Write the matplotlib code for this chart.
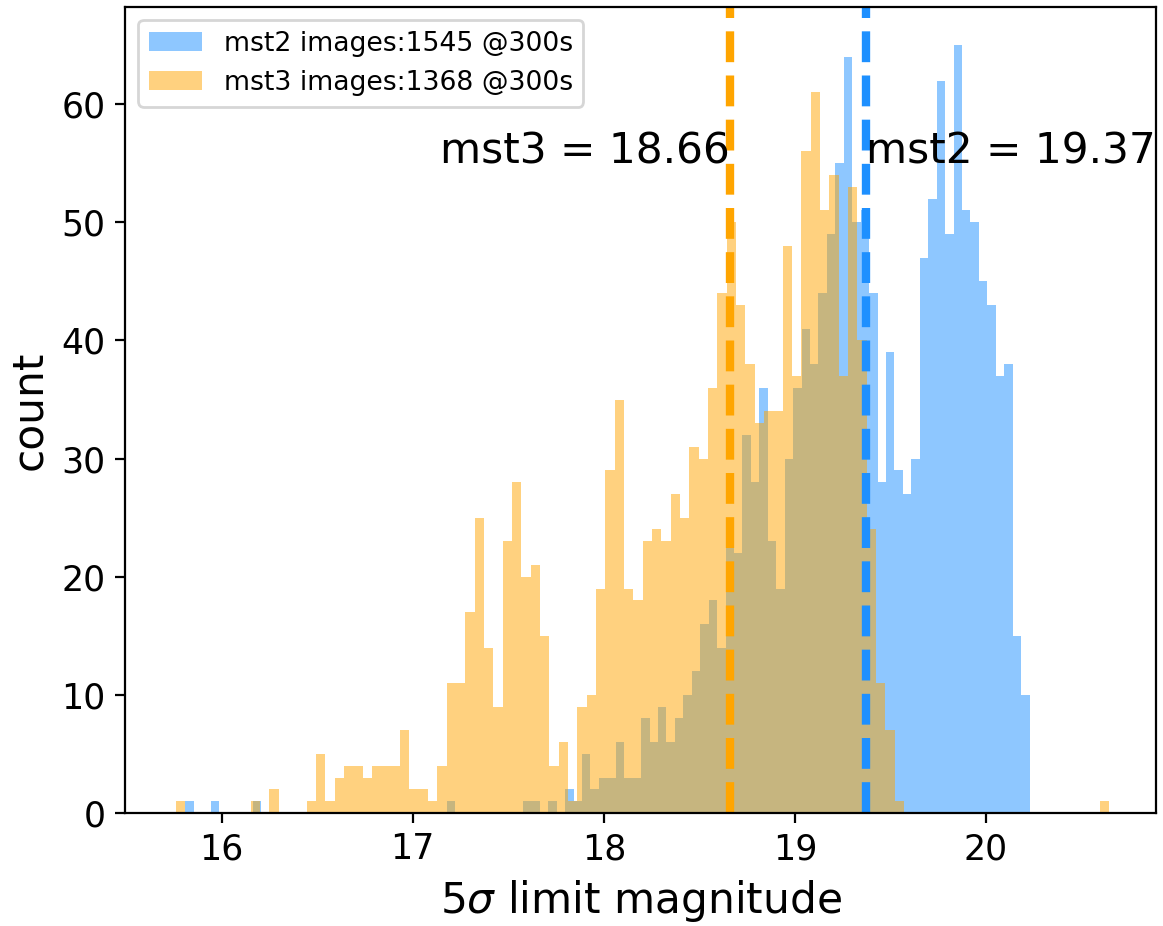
import numpy as np
import matplotlib
matplotlib.use("Agg")
import matplotlib.pyplot as plt

# ---- data (histogram counts, 100 bins each) ----
mst2_range = (15.809, 20.228)
mst3_range = (15.761, 20.646)

mst2_counts = [1, 0, 0, 1, 0, 0, 0, 0, 1, 0,
               0, 0, 0, 0, 0, 0, 0, 0, 0, 0,
               0, 0, 0, 0, 0, 0, 0, 0, 0, 0,
               0, 1, 0, 0, 0, 0, 0, 0, 0, 0,
               1, 1, 0, 1, 0, 2, 1, 5, 2, 3,
               3, 6, 3, 3, 8, 6, 9, 6, 8, 10,
               12, 16, 18, 14, 24, 22, 32, 28, 36, 23,
               19, 30, 36, 41, 38, 44, 49, 55, 64, 50,
               51, 44, 28, 39, 29, 27, 30, 47, 52, 62,
               49, 65, 51, 50, 45, 43, 37, 38, 15, 10]

mst3_counts = [1, 0, 0, 0, 0, 0, 0, 0, 1, 0,
               2, 0, 0, 0, 1, 5, 1, 3, 4, 4,
               3, 4, 4, 4, 7, 2, 2, 1, 4, 11,
               11, 17, 25, 14, 9, 23, 28, 20, 21, 15,
               4, 6, 1, 9, 10, 19, 29, 35, 19, 18,
               23, 24, 23, 27, 25, 31, 30, 36, 44, 50,
               43, 38, 33, 34, 34, 48, 37, 56, 61, 51,
               54, 37, 53, 40, 24, 11, 7, 1, 0, 0,
               0, 0, 0, 0, 0, 0, 0, 0, 0, 0,
               0, 0, 0, 0, 0, 0, 0, 0, 0, 1]

mst2_label = "mst2 images:1545 @300s"
mst3_label = "mst3 images:1368 @300s"
mst2_limit = 19.37
mst3_limit = 18.66

# ---- figure ----
fig = plt.figure(figsize=(11.63 / 2, 9.26 / 2), dpi=200)
ax = fig.add_axes([125 / 1163, 1 - 813 / 926, (1156 - 125) / 1163, (813 - 6.7) / 926])

e2 = np.linspace(mst2_range[0], mst2_range[1], len(mst2_counts) + 1)
e3 = np.linspace(mst3_range[0], mst3_range[1], len(mst3_counts) + 1)
c2 = 0.5 * (e2[:-1] + e2[1:])
c3 = 0.5 * (e3[:-1] + e3[1:])

ax.hist(c2, bins=e2, weights=mst2_counts, color="dodgerblue", alpha=0.5, label=mst2_label)
ax.hist(c3, bins=e3, weights=mst3_counts, color="orange", alpha=0.5, label=mst3_label)

ax.axvline(mst2_limit, color="dodgerblue", linestyle="--", linewidth=3)
ax.axvline(mst3_limit, color="orange", linestyle="--", linewidth=3)

ax.text(mst2_limit, 55, f"mst2 = {mst2_limit:.2f}", fontsize=15.2, ha="left")
ax.text(mst3_limit, 55, f"mst3 = {mst3_limit:.2f}", fontsize=15.2, ha="right")

ax.set_xlim(15.494, 20.89)
ax.set_xlabel(r"5$\sigma$ limit magnitude", fontsize=15.2)
ax.set_ylabel("count", fontsize=15.2)
ax.tick_params(labelsize=12.5, width=0.8, length=3.5)
for s in ax.spines.values():
    s.set_linewidth(0.8)
ax.legend(loc="upper left", fontsize=9.6)

fig.savefig("out.png", dpi=200)
